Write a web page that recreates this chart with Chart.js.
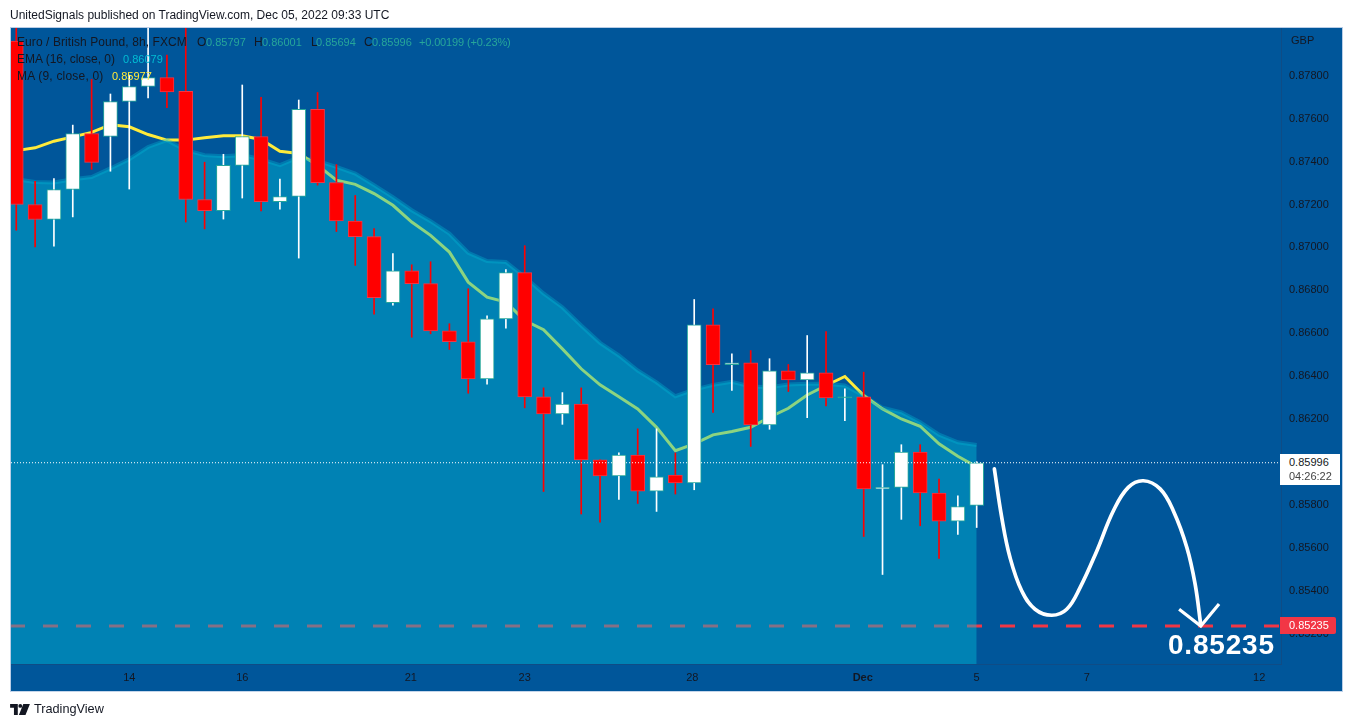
<!DOCTYPE html>
<html>
<head>
<meta charset="utf-8">
<script src="https://cdn.jsdelivr.net/npm/chart.js@4/dist/chart.umd.js"></script>
<style>
html,body{margin:0;padding:0;background:#fff;width:1354px;height:727px;overflow:hidden}
body{font-family:"Liberation Sans",sans-serif;color:#131722}
#panel{position:absolute;left:10px;top:27px;width:1333px;height:665px;box-sizing:border-box;border:1px solid #b9cde6;border-bottom-color:#c4d5ea;background:#00569a}
#wrap{position:absolute;left:0;top:0;width:1354px;height:727px}
.t{position:absolute;white-space:nowrap;font-size:12px;line-height:14px;z-index:5}
.n{font-size:11px}
.v{color:#26a69a;font-size:11px}
</style>
</head>
<body>
<div id="panel"></div>
<div id="wrap"><canvas id="c" width="1354" height="727"></canvas></div>

<div class="t" style="left:10px;top:8px">UnitedSignals published on TradingView.com, Dec 05, 2022 09:33 UTC</div>
<div class="t" style="left:17px;top:35px;letter-spacing:.08px">Euro / British Pound, 8h, FXCM</div>
<div class="t" style="left:197px;top:35px">O</div><div class="t v" style="left:206px;top:35px">0.85797</div>
<div class="t" style="left:254px;top:35px">H</div><div class="t v" style="left:262px;top:35px">0.86001</div>
<div class="t" style="left:311px;top:35px">L</div><div class="t v" style="left:316px;top:35px">0.85694</div>
<div class="t" style="left:364px;top:35px">C</div><div class="t v" style="left:372px;top:35px">0.85996</div>
<div class="t v" style="left:419px;top:35px;letter-spacing:-.15px">+0.00199 (+0.23%)</div>
<div class="t" style="left:17px;top:52px">EMA (16, close, 0)</div><div class="t n" style="left:123px;top:52px;color:#00bcd4">0.86079</div>
<div class="t" style="left:17px;top:69px;letter-spacing:.2px">MA (9, close, 0)</div><div class="t n" style="left:112px;top:69px;color:#ffeb3b">0.85977</div>
<div class="t n" style="left:1291px;top:33px">GBP</div>

<div class="t" style="left:1280px;top:454px;width:60px;height:31px;background:#fff"></div>
<div class="t n" style="left:1289px;top:455px;z-index:6">0.85996</div>
<div class="t n" style="left:1289px;top:469px;z-index:6;color:#444">04:26:22</div>
<div class="t" style="left:1280px;top:617px;width:56px;height:17px;background:#f23645;border-radius:0 2px 2px 0"></div>
<div class="t n" style="left:1289px;top:618px;z-index:6;color:#fff">0.85235</div>
<div class="t" style="left:1168px;top:628px;font-size:28px;line-height:34px;font-weight:bold;letter-spacing:.8px;color:#fff">0.85235</div>

<svg style="position:absolute;left:10px;top:704px" width="20" height="11" viewBox="0 0 36 20"><path fill="#131722" d="M0 0h14v20H7V7H0zM15 3.5a3.5 3.5 0 1 0 7 0 3.5 3.5 0 1 0-7 0zM24 0h12l-8 20H16z"/></svg>
<div class="t" style="left:34px;top:702px;font-size:12.7px">TradingView</div>

<script>
// Candles, oldest first (8h bars)
const opens  = [0.87962,0.87200,0.87130,0.87270,0.87531,0.87517,0.87680,0.87750,0.87792,0.87727,0.87223,0.87171,0.87382,0.87517,0.87213,0.87237,0.87643,0.87302,0.87123,0.87050,0.86742,0.86891,0.86831,0.86611,0.86560,0.86387,0.86667,0.86882,0.86303,0.86224,0.86270,0.86009,0.85934,0.86032,0.85864,0.85939,0.85902,0.86639,0.86453,0.86462,0.86172,0.86424,0.86382,0.86415,0.86298,0.86303,0.85874,0.85881,0.86046,0.85855,0.85724,0.85797];
const closes = [0.87200,0.87130,0.87270,0.87531,0.87396,0.87680,0.87750,0.87792,0.87725,0.87223,0.87171,0.87382,0.87517,0.87213,0.87237,0.87643,0.87302,0.87123,0.87050,0.86765,0.86891,0.86831,0.86611,0.86560,0.86387,0.86667,0.86882,0.86303,0.86224,0.86270,0.86009,0.85934,0.86032,0.85864,0.85930,0.85902,0.86639,0.86453,0.86462,0.86172,0.86424,0.86382,0.86415,0.86298,0.86303,0.85874,0.85881,0.86046,0.85855,0.85724,0.85792,0.85996];
const highs  = [0.88050,0.87308,0.87321,0.87570,0.87783,0.87715,0.87803,0.88050,0.87897,0.88050,0.87397,0.87434,0.87757,0.87699,0.87318,0.87687,0.87722,0.87386,0.87242,0.87088,0.86971,0.86919,0.86933,0.86644,0.86807,0.86681,0.86896,0.87008,0.86345,0.86323,0.86345,0.86009,0.86042,0.86154,0.86154,0.86042,0.86757,0.86714,0.86504,0.86519,0.86481,0.86454,0.86589,0.86607,0.86340,0.86418,0.85987,0.86080,0.86080,0.85920,0.85842,0.86001];
const lows   = [0.87080,0.87002,0.87006,0.87142,0.87364,0.87355,0.87272,0.87697,0.87651,0.87118,0.87086,0.87132,0.87230,0.87170,0.87178,0.86950,0.87290,0.87074,0.86916,0.86689,0.86731,0.86581,0.86597,0.86524,0.86320,0.86362,0.86623,0.86252,0.85862,0.86175,0.85757,0.85719,0.85825,0.85806,0.85769,0.85850,0.85870,0.86231,0.86333,0.86072,0.86152,0.86328,0.86206,0.86261,0.86192,0.85652,0.85475,0.85732,0.85702,0.85550,0.85662,0.85694];

// Indicators: first value belongs to the bar just before the visible window
const ema16 = [0.87327,0.87318,0.87305,0.87302,0.87318,0.87328,0.87368,0.87411,0.87468,0.87500,0.87453,0.87430,0.87425,0.87430,0.87411,0.87383,0.87420,0.87403,0.87375,0.87344,0.87290,0.87234,0.87173,0.87122,0.87064,0.86975,0.86936,0.86932,0.86862,0.86785,0.86721,0.86636,0.86555,0.86496,0.86426,0.86371,0.86306,0.86337,0.86359,0.86373,0.86351,0.86348,0.86361,0.86364,0.86364,0.86356,0.86309,0.86252,0.86231,0.86185,0.86127,0.86091,0.86079];
const ma9   = [0.87444,0.87451,0.87464,0.87495,0.87515,0.87536,0.87572,0.87562,0.87526,0.87500,0.87500,0.87511,0.87520,0.87520,0.87503,0.87448,0.87438,0.87383,0.87313,0.87294,0.87251,0.87196,0.87118,0.87056,0.86978,0.86838,0.86768,0.86745,0.86659,0.86616,0.86527,0.86434,0.86359,0.86304,0.86247,0.86161,0.86052,0.86084,0.86126,0.86142,0.86161,0.86208,0.86250,0.86312,0.86356,0.86398,0.86309,0.86247,0.86200,0.86166,0.86084,0.86026,0.85977];

const targetPrice = 0.85235;
const lastPrice   = 0.85996;

// Hand-drawn projection and arrow head, in bar index / price
const pathBars   = [51.94,52.33,52.77,53.39,54.10,54.99,55.78,56.49,57.38,58.26,59.05,59.85,60.74,61.44,62.16,62.60,62.90];
const pathPrices = [0.85967,0.85741,0.85554,0.85399,0.85313,0.85285,0.85313,0.85414,0.85585,0.85772,0.85881,0.85912,0.85874,0.85772,0.85601,0.85430,0.85239];
const arrowBars   = [61.75,62.90,63.87];
const arrowPrices = [0.85313,0.85235,0.85337];

// Time axis
const tickBars   = [6,12,20.95,27,35.9,44.95,51,56.85,66];
const tickLabels = ['14','16','21','23','28','Dec','5','7','12'];

const X_MIN=-0.28, X_MAX=67.16, Y_MIN=0.850577, Y_MAX=0.880227, Y_TOP_TICK=0.878;
const isUp = i => closes[i]>=opens[i];
const RED='#ff0000', RED_EDGE='#f23645', WHITE='#ffffff', TEAL='#26a69a';
const idx = opens.map((_,i)=>i);
const bodyFill = i => Math.abs(closes[i]-opens[i])<0.00006 ? TEAL : (isUp(i)?WHITE:RED);

new Chart(document.getElementById('c'),{
  data:{datasets:[
    {type:'bar',order:1,data:idx.map(i=>({x:i,y:[opens[i],closes[i]]})),
      barThickness:14,grouped:false,borderSkipped:false,borderWidth:1,
      backgroundColor:idx.map(bodyFill),
      borderColor:idx.map(i=>isUp(i)?TEAL:RED_EDGE)},
    {type:'bar',order:2,data:idx.map(i=>({x:i,y:[lows[i],highs[i]]})),
      barThickness:1,grouped:false,borderWidth:0,
      backgroundColor:idx.map(i=>isUp(i)?WHITE:RED)},
    {type:'line',order:0,data:[{x:X_MIN,y:lastPrice},{x:X_MAX,y:lastPrice}],
      borderColor:'#ffffff',borderWidth:1,borderDash:[1,2],pointRadius:0,fill:false},
    {type:'line',order:0,data:pathBars.map((b,i)=>({x:b,y:pathPrices[i]})),
      borderColor:'#ffffff',borderWidth:3.7,tension:0.4,pointRadius:0,fill:false,borderCapStyle:'round'},
    {type:'line',order:0,data:arrowBars.map((b,i)=>({x:b,y:arrowPrices[i]})),
      borderColor:'#ffffff',borderWidth:3.2,pointRadius:0,fill:false},
    {type:'line',order:3,data:ema16.map((v,i)=>({x:i-1,y:v})),
      borderColor:'rgba(0,184,212,0.35)',borderWidth:4,backgroundColor:'rgba(0,184,212,0.45)',
      pointRadius:0,fill:'start',tension:0},
    {type:'line',order:4,data:ma9.map((v,i)=>({x:i-1,y:v})),
      borderColor:'#ffeb3b',borderWidth:3,pointRadius:0,fill:false,tension:0},
    {type:'line',order:5,data:[{x:X_MIN,y:targetPrice},{x:X_MAX,y:targetPrice}],
      borderColor:RED_EDGE,borderWidth:3,borderDash:[15,18],borderDashOffset:1,pointRadius:0,fill:false}
  ]},
  options:{
    responsive:false,animation:false,
    layout:{padding:{left:11,top:28,right:11,bottom:36}},
    plugins:{legend:{display:false},tooltip:{enabled:false}},
    scales:{
      x:{type:'linear',offset:false,min:X_MIN,max:X_MAX,
        afterBuildTicks:s=>{s.ticks=tickBars.map(v=>({value:v}));},
        afterFit:s=>{s.height=27;},
        grid:{display:false,drawTicks:false},
        border:{display:true,color:'#0f4c86',width:1},
        ticks:{autoSkip:false,maxRotation:0,padding:7,color:'#131722',
          font:c=>({family:'"Liberation Sans",sans-serif',size:11,weight:tickLabels[tickBars.indexOf(c.tick&&c.tick.value)]==='Dec'?'bold':'normal'}),
          callback:v=>tickLabels[tickBars.indexOf(v)]}},
      y:{type:'linear',position:'right',min:Y_MIN,max:Y_MAX,
        afterBuildTicks:s=>{s.ticks=s.ticks.filter(t=>t.value<=Y_TOP_TICK+1e-6);},
        afterFit:s=>{s.width=62;},
        grid:{display:false,drawTicks:false},
        border:{display:true,color:'#0f4c86',width:1},
        ticks:{stepSize:0.002,includeBounds:false,autoSkip:false,padding:8,color:'#131722',
          font:{family:'"Liberation Sans",sans-serif',size:11},
          callback:v=>v.toFixed(5)}}
    }
  }
});
</script>
</body>
</html>
